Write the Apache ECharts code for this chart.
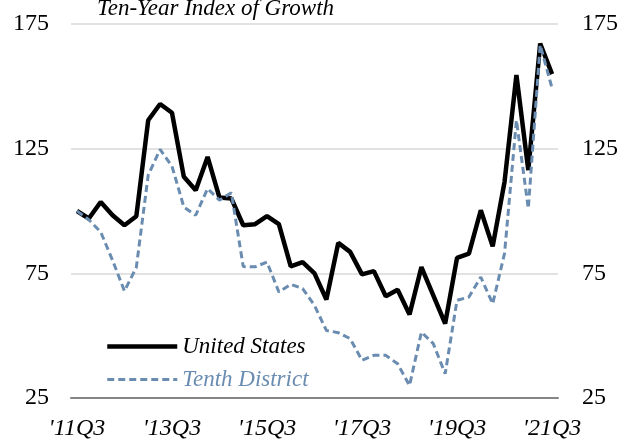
<!DOCTYPE html>
<html>
<head>
<meta charset="utf-8">
<script src="https://cdn.jsdelivr.net/npm/echarts@6/dist/echarts.min.js"></script>
<style>
  html, body { margin: 0; padding: 0; background: #fff; }
  #chart { width: 631px; height: 445px; }
</style>
</head>
<body>
<div id="chart"></div>
<script>
// Quarterly index, 2011Q3 = 100
const quarters = [
  "'11Q3","'11Q4","'12Q1","'12Q2","'12Q3","'12Q4","'13Q1","'13Q2","'13Q3","'13Q4",
  "'14Q1","'14Q2","'14Q3","'14Q4","'15Q1","'15Q2","'15Q3","'15Q4","'16Q1","'16Q2",
  "'16Q3","'16Q4","'17Q1","'17Q2","'17Q3","'17Q4","'18Q1","'18Q2","'18Q3","'18Q4",
  "'19Q1","'19Q2","'19Q3","'19Q4","'20Q1","'20Q2","'20Q3","'20Q4","'21Q1","'21Q2",
  "'21Q3"
];

const unitedStates = [
  100.0, 97.0, 103.6, 98.3, 94.3, 97.9, 136.4, 142.9, 139.4, 113.7,
  108.3, 121.7, 105.4, 105.0, 94.3, 94.7, 97.9, 94.7, 77.8, 79.5,
  75.0, 64.5, 87.2, 83.6, 74.6, 75.9, 65.8, 68.4, 58.5, 77.5,
  66.2, 54.8, 81.2, 82.9, 100.3, 85.8, 111.7, 154.5, 116.4, 167.2,
  154.9
];

const tenthDistrict = [
  100.0, 96.5, 91.6, 80.2, 67.9, 77.4, 114.4, 124.7, 118.0, 101.6,
  98.3, 109.0, 104.3, 107.3, 77.7, 77.6, 79.5, 67.5, 70.6, 68.9,
  62.1, 52.1, 51.2, 48.8, 40.1, 42.1, 42.1, 38.7, 30.0, 51.4,
  46.8, 34.7, 64.2, 65.5, 73.5, 62.8, 83.0, 136.4, 101.0, 166.6,
  149.2
];

const yTicks = [25, 75, 125, 175];

const serif = '"Liberation Serif", "DejaVu Serif", serif';
const usColor = '#000000';
const tdColor = '#6a8cb0';
const tdDash = [7, 4];

const chart = echarts.init(document.getElementById('chart'), null, { renderer: 'canvas' });

const yAxisBase = {
  type: 'value',
  min: yTicks[0],
  max: yTicks[yTicks.length - 1],
  interval: yTicks[1] - yTicks[0],
  axisLine: { show: false },
  axisTick: { show: false }
};

chart.setOption({
  animation: false,
  backgroundColor: '#ffffff',
  graphic: [{
    type: 'text',
    left: 97,
    top: -3,
    style: {
      text: 'Ten-Year Index of Growth',
      font: 'italic 23px ' + serif,
      fill: '#000'
    }
  }],
  grid: { left: 71, right: 73, top: 24, bottom: 47 },
  legend: {
    orient: 'vertical',
    left: 100,
    top: 330,
    itemWidth: 70,
    itemHeight: 14,
    itemGap: 10,
    textStyle: { fontFamily: serif, fontStyle: 'italic', fontSize: 23 },
    data: [
      {
        name: 'United States',
        itemStyle: { opacity: 0 },
        lineStyle: { color: usColor, width: 4.5 },
        textStyle: { color: usColor }
      },
      {
        name: 'Tenth District',
        itemStyle: { opacity: 0 },
        lineStyle: { color: tdColor, width: 3, type: tdDash },
        textStyle: { color: tdColor }
      }
    ]
  },
  xAxis: {
    type: 'category',
    data: quarters,
    boundaryGap: true,
    axisLine: { show: true, lineStyle: { color: '#858585', width: 2 } },
    axisTick: { show: false },
    axisLabel: {
      interval: 7,
      margin: 19,
      fontFamily: serif,
      fontStyle: 'italic',
      fontSize: 24,
      color: '#000'
    },
    splitLine: { show: false }
  },
  yAxis: [
    Object.assign({}, yAxisBase, {
      position: 'left',
      axisLabel: { margin: 22, fontFamily: serif, fontSize: 24, color: '#000' },
      splitLine: { show: true, lineStyle: { color: '#d9d9d9', width: 1.5 } }
    }),
    Object.assign({}, yAxisBase, {
      position: 'right',
      axisLabel: { margin: 24, fontFamily: serif, fontSize: 24, color: '#000' },
      splitLine: { show: false }
    })
  ],
  series: [
    {
      name: 'Tenth District',
      type: 'line',
      data: tenthDistrict,
      symbol: 'none',
      z: 3,
      lineStyle: { color: tdColor, width: 3, type: tdDash },
      itemStyle: { color: tdColor }
    },
    {
      name: 'United States',
      type: 'line',
      data: unitedStates,
      symbol: 'none',
      z: 2,
      lineStyle: { color: usColor, width: 4.5 },
      itemStyle: { color: usColor }
    }
  ]
});
</script>
</body>
</html>
